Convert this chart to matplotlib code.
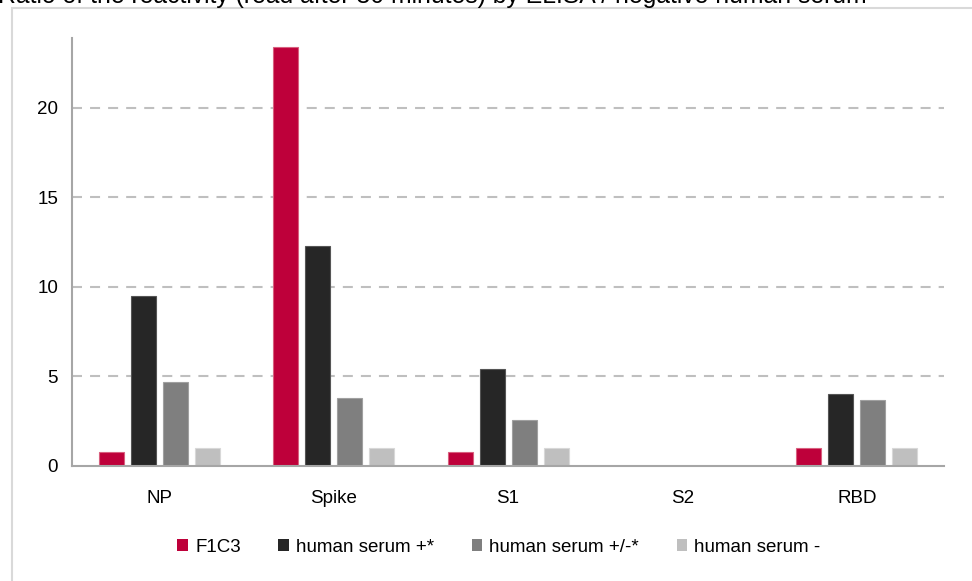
import matplotlib
matplotlib.use("Agg")
import matplotlib.pyplot as plt
from matplotlib.patches import Patch, Rectangle
import numpy as np

plt.rcParams['font.family'] = ['Liberation Sans', 'DejaVu Sans']

categories = ["NP", "Spike", "S1", "S2", "RBD"]
series_names = ["F1C3", "human serum +*", "human serum +/-*", "human serum -"]
f1c3 = [0.8, 23.4, 0.77, np.nan, 1.0]
serum_pos = [9.5, 12.3, 5.4, np.nan, 4.0]
serum_mid = [4.7, 3.82, 2.55, np.nan, 3.7]
serum_neg = [1.0, 1.0, 1.0, np.nan, 1.0]
yticks = [0, 5, 10, 15, 20]
title = "Ratio of the reactivity (read after 30 minutes) by ELISA / negative human serum"

colors = ["#be003a", "#262626", "#7f7f7f", "#bfbfbf"]
edges = ["#d8607f", "#555555", "#a0a0a0", "#d8d8d8"]

W, H = 972, 581
fig = plt.figure(figsize=(W / 100, H / 100), dpi=100)

# frame
fig.patches.append(Rectangle((12 / W, -0.1), 1.2, 1 - 8 / H + 0.1, transform=fig.transFigure,
                             fill=False, edgecolor="#d9d9d9", linewidth=1.5, zorder=0))
fig.text(-2 / W, 1 - 3 / H, title, ha="left", va="baseline", fontsize=17.8,
         color="#000000")

ax = fig.add_axes([72 / W, (H - 466) / H, 872 / W, (466 - 38) / H])
x = np.arange(len(categories))
step = 32 / 174.4
bw = 25 / 174.4
for j, vals in enumerate([f1c3, serum_pos, serum_mid, serum_neg]):
    ax.bar(x + (j - 1.5) * step, vals, width=bw, color=colors[j], edgecolor=edges[j],
           linewidth=0.8, zorder=3, label=series_names[j])

ax.set_xlim(-0.5, len(categories) - 0.5)
ax.set_ylim(0, 23.9)
ax.set_yticks(yticks)
ax.set_yticklabels([str(t) for t in yticks])
ax.set_xticks(x)
ax.set_xticklabels(categories)
ax.tick_params(axis="both", length=0, labelsize=13.5, colors="#000000")
ax.tick_params(axis="y", pad=10)
ax.tick_params(axis="x", pad=17)
lw = 1.5
for t in yticks[1:]:
    ax.axhline(t, color="#bfbfbf", linewidth=lw, linestyle=(0, (7.2 / lw, 5.8 / lw)), zorder=1)
for s in ["top", "right"]:
    ax.spines[s].set_visible(False)
for s in ["left", "bottom"]:
    ax.spines[s].set_color("#a6a6a6")
    ax.spines[s].set_linewidth(1.5)
    ax.spines[s].set_zorder(4)

handles = [Patch(facecolor=c, edgecolor="none") for c in colors]
fig.legend(handles, series_names, loc="center", bbox_to_anchor=(499 / W, 1 - 547 / H),
           ncol=4, frameon=False, fontsize=13.5, handlelength=0.55, handleheight=0.55,
           handletextpad=0.4, columnspacing=2.0)

fig.savefig("out.png", dpi=100)
